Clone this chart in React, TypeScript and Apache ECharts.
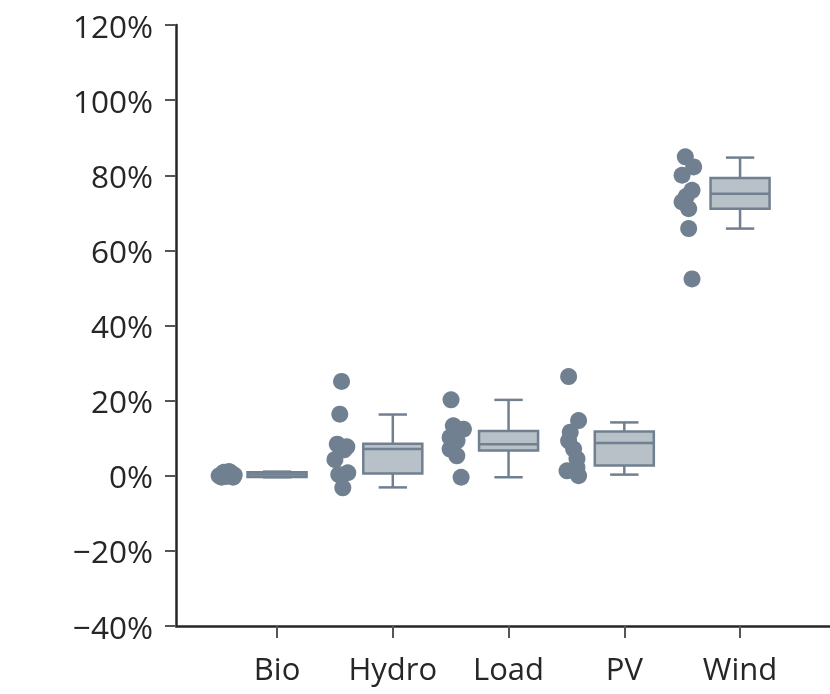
import React, { useEffect, useRef } from "react";
import * as echarts from "echarts";

const categories = ["Bio", "Hydro", "Load", "PV", "Wind"];

// Box statistics per category: [min, Q1, median, Q3, max] (%)
const boxMin = [-0.4, -3.1, -0.4, 0.3, 65.8];
const boxQ1 = [-0.3, 0.6, 6.7, 2.7, 71.1];
const boxMedian = [0.3, 7.1, 8.4, 8.7, 75.1];
const boxQ3 = [0.9, 8.5, 11.9, 11.8, 79.3];
const boxMax = [1.1, 16.3, 20.2, 14.2, 84.7];

// Individual observations (%) and their horizontal strip offsets (category units)
const bioValues = [-0.4, -0.4, 0.9, 0.8, 0.3, 0.5, 1.1, 0.2, 0.0, -0.2];
const bioOffsets = [-0.48, -0.38, -0.46, -0.4, -0.43, -0.47, -0.415, -0.37, -0.5, -0.44];
const hydroValues = [25.1, 16.4, 8.4, 7.7, 6.9, 4.3, 0.3, 0.8, -3.2];
const hydroOffsets = [-0.443, -0.458, -0.48, -0.397, -0.42, -0.5, -0.467, -0.389, -0.432];
const loadValues = [20.2, 13.3, 12.4, 10.2, 9.3, 7.1, 5.3, -0.4];
const loadOffsets = [-0.497, -0.477, -0.39, -0.505, -0.445, -0.505, -0.447, -0.41];
const pvValues = [26.4, 14.7, 11.6, 9.3, 7.1, 4.5, 2.2, 1.3, 0.0];
const pvOffsets = [-0.481, -0.395, -0.467, -0.481, -0.438, -0.409, -0.409, -0.495, -0.395];
const windValues = [84.9, 82.2, 80.0, 76.0, 74.4, 72.9, 71.1, 65.8, 52.4];
const windOffsets = [-0.473, -0.401, -0.501, -0.415, -0.464, -0.501, -0.444, -0.444, -0.415];

const groupValues = [bioValues, hydroValues, loadValues, pvValues, windValues];
const groupOffsets = [bioOffsets, hydroOffsets, loadOffsets, pvOffsets, windOffsets];

const DOT = "#708090";
const BOX_FILL = "#b8c0c8";
const AXIS = "#262626";
const FONT = "'Open Sans', 'Noto Sans', sans-serif";

export default function App() {
  const ref = useRef<HTMLDivElement>(null);

  useEffect(() => {
    if (!ref.current) return;
    const chart = echarts.init(ref.current, null, { renderer: "svg" });

    const scatterData: number[][] = [];
    groupValues.forEach((vals, i) => {
      vals.forEach((v, j) => scatterData.push([i + groupOffsets[i][j], v]));
    });
    const boxData = categories.map((_, i) => [i, boxMin[i], boxQ1[i], boxMedian[i], boxQ3[i], boxMax[i]]);

    const BOX_W = 0.51;
    const CAP_W = 0.245;

    chart.setOption({
      animation: false,
      grid: { left: 176, right: 0, top: 25, bottom: 68, containLabel: false },
      xAxis: {
        type: "value",
        min: -0.873,
        max: 4.777,
        splitLine: { show: false },
        axisLine: { show: true, onZero: false, lineStyle: { color: AXIS, width: 2.5 } },
        axisTick: {
          show: true,
          length: 12,
          customValues: [0, 1, 2, 3, 4],
          lineStyle: { color: "#555", width: 2 },
        },
        axisLabel: {
          customValues: [0, 1, 2, 3, 4],
          formatter: (v: number) => categories[Math.round(v)] ?? "",
          fontSize: 31,
          fontFamily: FONT,
          color: AXIS,
          margin: 26,
        },
      },
      yAxis: {
        type: "value",
        min: -40,
        max: 120,
        interval: 20,
        splitLine: { show: false },
        axisLine: { show: true, onZero: false, lineStyle: { color: AXIS, width: 2.5 } },
        axisTick: { show: true, length: 11, lineStyle: { color: "#555", width: 2 } },
        axisLabel: {
          formatter: (v: number) => (v < 0 ? "\u2212" + Math.abs(v) : String(v)) + "%",
          fontSize: 31.5,
          fontFamily: FONT,
          color: AXIS,
          margin: 23,
        },
      },
      series: [
        {
          type: "custom",
          data: boxData,
          encode: { x: 0, y: [1, 2, 3, 4, 5] },
          renderItem: (params: any, api: any) => {
            const x = api.value(0);
            const vMin = api.value(1);
            const q1 = api.value(2);
            const med = api.value(3);
            const q3 = api.value(4);
            const vMax = api.value(5);
            const pL = api.coord([x - BOX_W / 2, q3]);
            const pR = api.coord([x + BOX_W / 2, q1]);
            const cL = api.coord([x - CAP_W / 2, vMin])[0];
            const cR = api.coord([x + CAP_W / 2, vMin])[0];
            const cx = api.coord([x, 0])[0];
            const yMin = api.coord([x, vMin])[1];
            const yMax = api.coord([x, vMax])[1];
            const yQ1 = api.coord([x, q1])[1];
            const yQ3 = api.coord([x, q3])[1];
            const yMed = api.coord([x, med])[1];
            const ls = { stroke: DOT, lineWidth: 2.5 };
            return {
              type: "group",
              children: [
                { type: "line", shape: { x1: cx, y1: yQ3, x2: cx, y2: yMax }, style: ls },
                { type: "line", shape: { x1: cx, y1: yQ1, x2: cx, y2: yMin }, style: ls },
                { type: "line", shape: { x1: cL, y1: yMax, x2: cR, y2: yMax }, style: ls },
                { type: "line", shape: { x1: cL, y1: yMin, x2: cR, y2: yMin }, style: ls },
                {
                  type: "rect",
                  shape: { x: pL[0], y: yQ3, width: pR[0] - pL[0], height: yQ1 - yQ3 },
                  style: { fill: BOX_FILL, stroke: DOT, lineWidth: 2.5 },
                },
                { type: "line", shape: { x1: pL[0], y1: yMed, x2: pR[0], y2: yMed }, style: ls },
              ],
            };
          },
          z: 2,
        },
        {
          type: "scatter",
          data: scatterData,
          symbol: "circle",
          symbolSize: 17,
          itemStyle: { color: DOT, opacity: 1 },
          z: 3,
        },
      ],
    });

    return () => chart.dispose();
  }, []);

  return (
    <div
      ref={ref}
      style={{ position: "fixed", left: 0, top: 0, width: 830, height: 694 }}
    />
  );
}
